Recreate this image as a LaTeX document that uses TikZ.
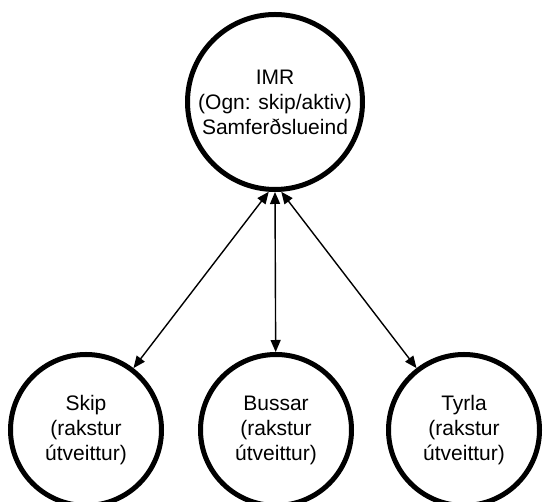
\documentclass[tikz,border=0pt]{standalone}
\usepackage{fontspec}
\setmainfont{Liberation Sans}
\usetikzlibrary{arrows.meta}
\begin{document}
\begin{tikzpicture}[x=1pt,y=1pt,
  bignode/.style={circle,draw,line width=5pt,minimum size=175pt,inner sep=0pt,align=center,
    font=\fontsize{21}{25}\selectfont},
  smallnode/.style={circle,draw,line width=5pt,minimum size=151pt,inner sep=0pt,align=center,
    font=\fontsize{21}{25}\selectfont},
  link/.style={line width=1.4pt,{Triangle[length=12pt,width=10pt]}-{Triangle[length=12pt,width=10pt]}}]
\useasboundingbox (0,0) rectangle (546,502);
\node[bignode] (imr) at (275,400) {IMR\\(Ogn: skip/aktiv)\\Samferðslueind};
\node[smallnode] (skip) at (86,72) {Skip\\(rakstur\\útveittur)};
\node[smallnode] (bussar) at (276,72) {Bussar\\(rakstur\\útveittur)};
\node[smallnode] (tyrla) at (464,72) {Tyrla\\(rakstur\\útveittur)};
\draw[link] (imr.-94) -- (skip);
\draw[link] (imr.-90) -- (bussar);
\draw[link] (imr.-86) -- (tyrla);
\end{tikzpicture}
\end{document}
